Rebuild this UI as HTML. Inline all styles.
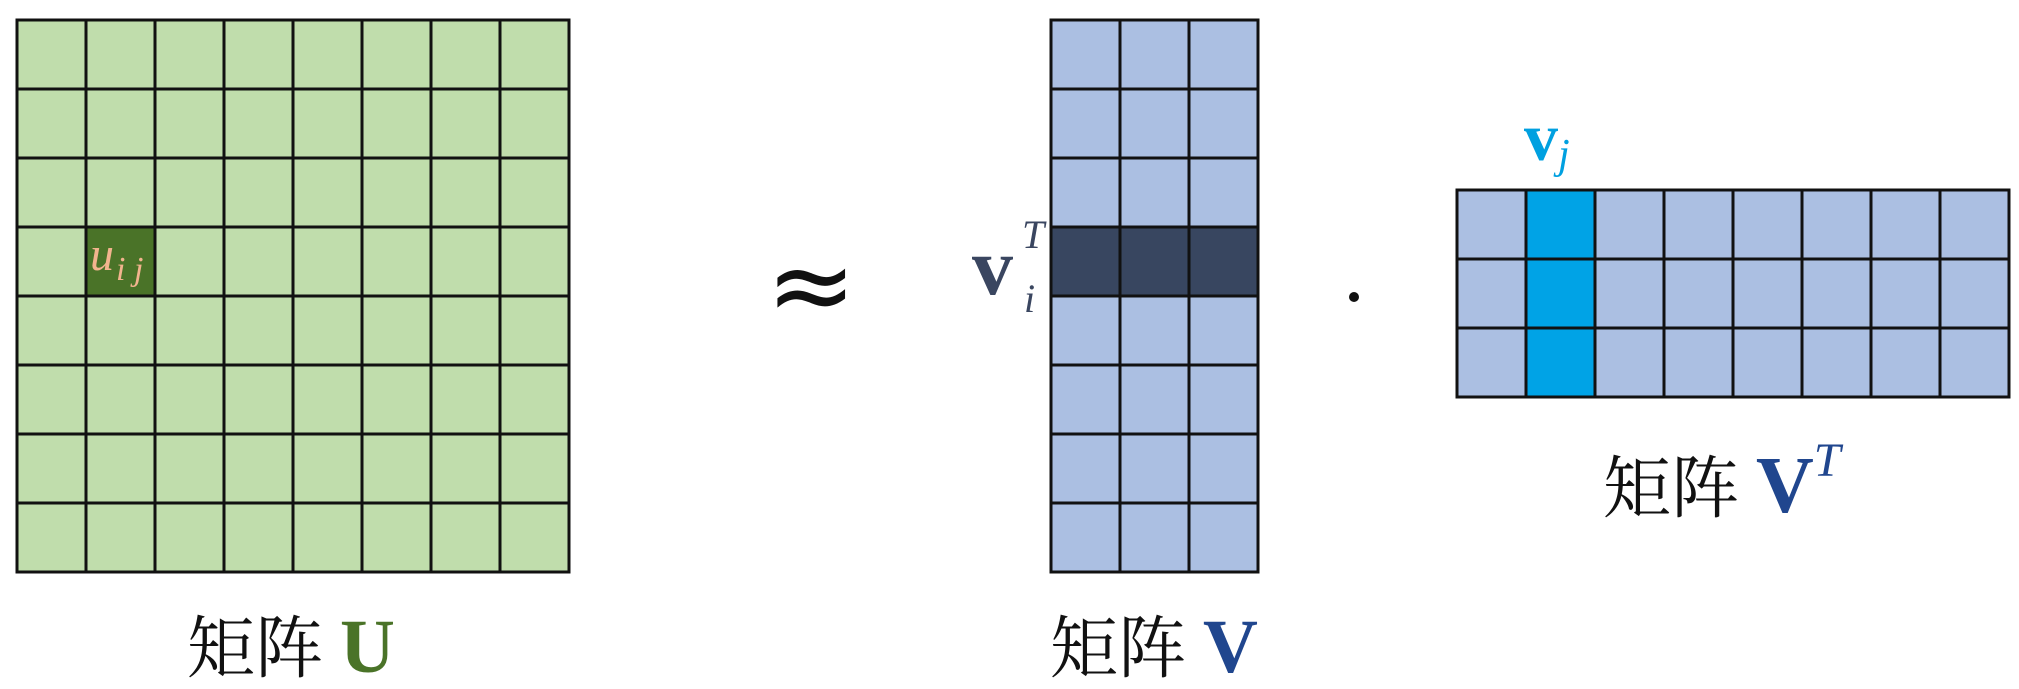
<!DOCTYPE html>
<html><head><meta charset="utf-8"><style>
html,body{margin:0;padding:0;background:#fff;}
svg{display:block;}
</style></head><body>
<svg width="2019" height="689" viewBox="0 0 2019 689" xmlns="http://www.w3.org/2000/svg">
<g stroke="#111" stroke-width="3">
<rect x="17" y="20" width="552" height="552" fill="#c0ddac"/>
<rect x="86" y="227" width="69" height="69" fill="#4a7328"/>
<path d="M86 20V572M155 20V572M224 20V572M293 20V572M362 20V572M431 20V572M500 20V572M17 89H569M17 158H569M17 227H569M17 296H569M17 365H569M17 434H569M17 503H569" fill="none"/>
<rect x="1051" y="20" width="207" height="552" fill="#abbfe2"/>
<rect x="1051" y="227" width="207" height="69" fill="#384660"/>
<path d="M1120 20V572M1189 20V572M1051 89H1258M1051 158H1258M1051 227H1258M1051 296H1258M1051 365H1258M1051 434H1258M1051 503H1258" fill="none"/>
<rect x="1457" y="190" width="552" height="207" fill="#abbfe2"/>
<rect x="1526" y="190" width="69" height="207" fill="#00a3e6"/>
<path d="M1526 190V397M1595 190V397M1664 190V397M1733 190V397M1802 190V397M1871 190V397M1940 190V397M1457 259H2009M1457 328H2009" fill="none"/>
</g>
<text x="90" y="270" font-family="Liberation Serif, serif" font-style="italic" font-size="48" fill="#f2b48e">u<tspan font-size="34" dy="10" dx="2">i j</tspan></text>
<text x="766" y="322" font-family="DejaVu Sans, sans-serif" font-size="108" fill="#111">≈</text>
<circle cx="1354" cy="297" r="5" fill="#111"/>
<text x="972" y="294" font-family="Liberation Serif, serif" font-weight="bold" font-size="82" fill="#3a4660">v</text>
<text x="1022" y="248" font-family="Liberation Serif, serif" font-style="italic" font-size="40" fill="#3a4660">T</text>
<text x="1024" y="312" font-family="Liberation Serif, serif" font-style="italic" font-size="40" fill="#3a4660">i</text>
<text x="1524" y="160" font-family="Liberation Serif, serif" font-weight="bold" font-size="68" fill="#00a0e0">v<tspan font-style="italic" font-weight="normal" font-size="42" dy="8">j</tspan></text>
<text x="187" y="672" font-family="Liberation Serif, 'Noto Serif CJK SC', serif" font-size="68" fill="#111">矩阵 <tspan font-weight="bold" font-size="76" fill="#4a7328">U</tspan></text>
<text x="1050" y="672" font-family="Liberation Serif, 'Noto Serif CJK SC', serif" font-size="68" fill="#111">矩阵 <tspan font-weight="bold" font-size="76" fill="#20468e">V</tspan></text>
<text x="1603" y="512" font-family="Liberation Serif, 'Noto Serif CJK SC', serif" font-size="68" fill="#111">矩阵 <tspan font-weight="bold" font-size="80" fill="#20468e">V</tspan><tspan font-style="italic" fill="#20468e" font-size="48" dy="-36">T</tspan></text>
</svg>
</body></html>
